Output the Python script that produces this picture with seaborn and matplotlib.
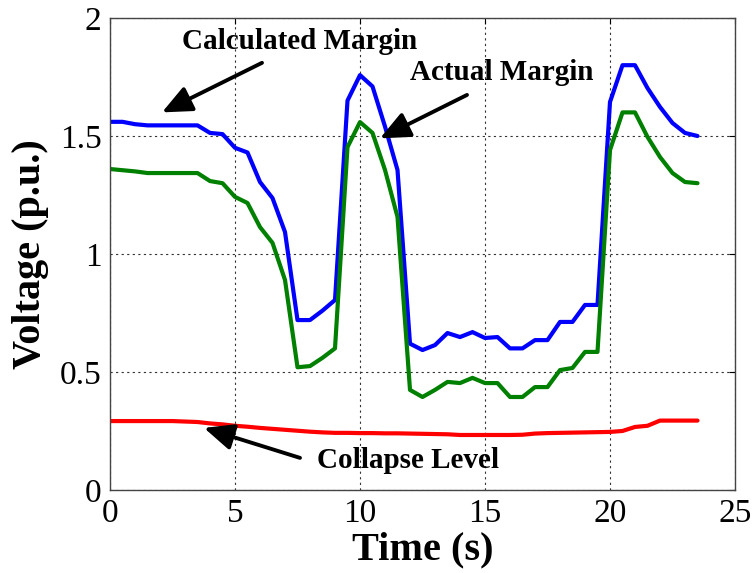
import numpy as np
import pandas as pd
import matplotlib
matplotlib.use("Agg")
import matplotlib.pyplot as plt
import seaborn as sns

time_s = [0, 0.5, 1, 1.5, 2, 2.5, 3, 3.5, 4, 4.5, 5, 5.5, 6, 6.5, 7, 7.5, 8, 8.5, 9, 9.5,
          10, 10.5, 11, 11.5, 12, 12.5, 13, 13.5, 14, 14.5, 15, 15.5, 16, 16.5, 17, 17.5,
          18, 18.5, 19, 19.5, 20, 20.5, 21, 21.5, 22, 22.5, 23, 23.5]

calculated_margin = [1.56, 1.56, 1.55, 1.545, 1.545, 1.545, 1.545, 1.545, 1.513, 1.508,
                     1.45, 1.43, 1.305, 1.237, 1.093, 0.72, 0.72, 0.76, 0.805, 1.65,
                     1.758, 1.71, 1.54, 1.356, 0.62, 0.593, 0.614, 0.665, 0.648, 0.669,
                     0.644, 0.648, 0.60, 0.60, 0.635, 0.635, 0.712, 0.712, 0.784, 0.784,
                     1.644, 1.80, 1.80, 1.703, 1.623, 1.555, 1.513, 1.50]

actual_margin = [1.36, 1.355, 1.35, 1.343, 1.343, 1.343, 1.343, 1.343, 1.309, 1.30,
                 1.242, 1.216, 1.114, 1.047, 0.89, 0.52, 0.525, 0.56, 0.60, 1.453,
                 1.559, 1.513, 1.356, 1.157, 0.424, 0.394, 0.424, 0.458, 0.453, 0.475,
                 0.453, 0.453, 0.394, 0.394, 0.436, 0.436, 0.508, 0.517, 0.585, 0.585,
                 1.44, 1.60, 1.60, 1.496, 1.411, 1.343, 1.305, 1.30]

collapse_level = [0.292, 0.292, 0.292, 0.292, 0.292, 0.292, 0.29, 0.288, 0.282, 0.278,
                  0.272, 0.268, 0.263, 0.259, 0.255, 0.251, 0.247, 0.244, 0.242, 0.242,
                  0.241, 0.241, 0.24, 0.24, 0.239, 0.238, 0.237, 0.236, 0.233, 0.233,
                  0.233, 0.233, 0.233, 0.234, 0.239, 0.241, 0.242, 0.243, 0.244, 0.245,
                  0.246, 0.25, 0.267, 0.272, 0.294, 0.294, 0.294, 0.294]

series_names = ["Calculated Margin", "Actual Margin", "Collapse Level"]
series_colors = ["#0000ff", "#008000", "#ff0000"]

x_ticks = [0, 5, 10, 15, 20, 25]
y_ticks = [0, 0.5, 1, 1.5, 2]
y_tick_labels = ["0", "0.5", "1", "1.5", "2"]

df = pd.DataFrame({
    "time": time_s * 3,
    "value": calculated_margin + actual_margin + collapse_level,
    "series": [series_names[0]] * len(time_s) + [series_names[1]] * len(time_s)
              + [series_names[2]] * len(time_s),
})

sns.set_style("white")
plt.rcParams["font.family"] = ["Liberation Serif", "DejaVu Serif"]
plt.rcParams["text.color"] = "black"
plt.rcParams["axes.labelcolor"] = "black"
plt.rcParams["xtick.color"] = "black"
plt.rcParams["ytick.color"] = "black"

fig = plt.figure(figsize=(7.55, 5.73), dpi=100)
ax = fig.add_axes([0.1457, 0.1449, 0.8278, 0.8237])

sns.lineplot(data=df, x="time", y="value", hue="series", hue_order=series_names,
             palette=series_colors, linewidth=3.0, legend=False, ax=ax, sort=False)

ax.set_xlim(0, 25)
ax.set_ylim(0, 2)
ax.set_xticks(x_ticks)
ax.set_yticks(y_ticks)
ax.set_yticklabels(y_tick_labels)
ax.tick_params(axis="both", labelsize=24, direction="in", length=4, width=0.8,
               top=True, right=True, colors="black", labelcolor="black", pad=6)
ax.grid(True, color="#333333", linestyle=(0, (2, 3)), linewidth=0.8)
for sp in ax.spines.values():
    sp.set_color("#444444")
    sp.set_linewidth(1.0)

ax.set_xlabel("Time (s)", fontsize=29, fontweight="bold", labelpad=2, color="black")
ax.set_ylabel("Voltage (p.u.)", fontsize=29, fontweight="bold", labelpad=8, color="black")

arrow = dict(arrowstyle="-|>,head_length=0.9,head_width=0.4", color="black",
             lw=2.8, shrinkA=0, shrinkB=0, mutation_scale=20)
ax.annotate("", xy=(2.08, 1.60), xytext=(6.08, 1.81), arrowprops=arrow)
ax.text(7.6, 1.9, "Calculated Margin", fontsize=21, fontweight="bold",
        ha="center", va="center", color="black")
ax.annotate("", xy=(10.8, 1.49), xytext=(14.28, 1.674), arrowprops=arrow)
ax.text(15.68, 1.767, "Actual Margin", fontsize=21, fontweight="bold",
        ha="center", va="center", color="black")
ax.annotate("", xy=(3.76, 0.263), xytext=(7.6, 0.136), arrowprops=arrow)
ax.text(11.92, 0.127, "Collapse Level", fontsize=21, fontweight="bold",
        ha="center", va="center", color="black")

fig.savefig("out.png", dpi=100)
